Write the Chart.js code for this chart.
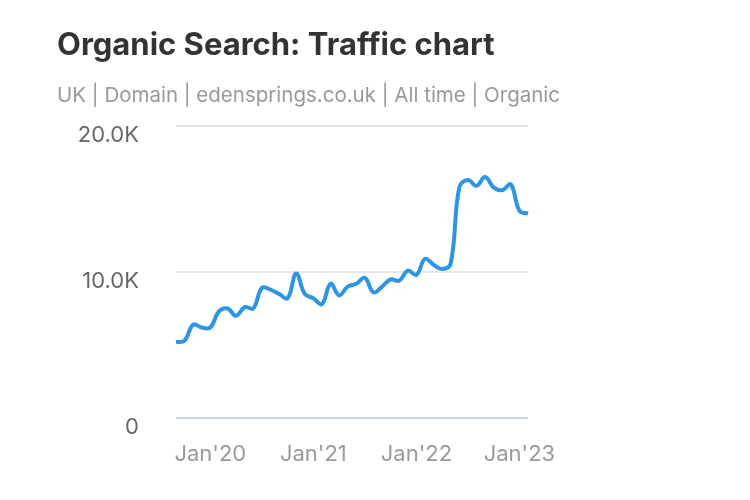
<!DOCTYPE html>
<html>
<head>
    <script src="https://cdn.jsdelivr.net/npm/chart.js@4"></script>
    <style>
        body { margin: 0; background: #fff; font-family: Inter, sans-serif; }
        #wrap { position: relative; width: 750px; height: 500px; }
        #title { position: absolute; left: 57px; top: 25px; font-size: 31px; font-weight: 700; color: #333; line-height: normal; white-space: nowrap; }
        #subtitle { position: absolute; left: 57px; top: 82px; font-size: 20.5px; color: #999; line-height: normal; white-space: nowrap; }
        canvas { position: absolute; left: 0; top: 0; }
    </style>
</head>
<body>
<div id="wrap">
    <canvas id="chart" width="750" height="500"></canvas>
    <div id="title">Organic Search: Traffic chart</div>
    <div id="subtitle">UK | Domain | edensprings.co.uk | All time | Organic</div>
</div>
<script>
    // monthly points, Sep 2019 .. Feb 2023
    const months = [
        "Sep'19", "Oct'19", "Nov'19", "Dec'19",
        "Jan'20", "Feb'20", "Mar'20", "Apr'20", "May'20", "Jun'20", "Jul'20", "Aug'20", "Sep'20", "Oct'20", "Nov'20", "Dec'20",
        "Jan'21", "Feb'21", "Mar'21", "Apr'21", "May'21", "Jun'21", "Jul'21", "Aug'21", "Sep'21", "Oct'21", "Nov'21", "Dec'21",
        "Jan'22", "Feb'22", "Mar'22", "Apr'22", "May'22", "Jun'22", "Jul'22", "Aug'22", "Sep'22", "Oct'22", "Nov'22", "Dec'22",
        "Jan'23", "Feb'23"
    ];
    const traffic = [
        5200, 5300, 6400, 6200,
        6200, 7300, 7500, 7000, 7600, 7500, 8900, 8800, 8500, 8200, 9900, 8500,
        8200, 7800, 9200, 8400, 9000, 9200, 9600, 8600, 9000, 9500, 9400, 10100,
        9800, 10900, 10500, 10200, 10600, 15800, 16300, 15900, 16500, 15800, 15600, 16000,
        14200, 14000
    ];
    const xTickLabels = ["Jan'20", "Jan'21", "Jan'22", "Jan'23"];
    const yTicks = [0, 10000, 20000];
    const yTickLabels = ['0', '10.0K', '20.0K'];

    const ctx = document.getElementById('chart');
    new Chart(ctx, {
        type: 'line',
        data: {
            labels: months,
            datasets: [{
                data: traffic,
                borderColor: '#2d95e2',
                borderWidth: 4,
                pointRadius: 0,
                tension: 0.4,
                fill: false
            }]
        },
        options: {
            responsive: false,
            animation: false,
            layout: { padding: { left: 57, right: 222, top: 126, bottom: 0 } },
            plugins: { legend: { display: false }, tooltip: { enabled: false } },
            scales: {
                x: {
                    afterFit: function (scale) { scale.height = 82; },
                    grid: { display: false },
                    border: { display: false },
                    ticks: {
                        autoSkip: false,
                        maxRotation: 0,
                        padding: 15,
                        color: '#999',
                        font: { family: 'Inter', size: 22 },
                        callback: function (v, i) {
                            const l = months[i];
                            return xTickLabels.includes(l) ? l : null;
                        }
                    }
                },
                y: {
                    min: 0,
                    max: 20000,
                    afterFit: function (scale) { scale.width = 119; },
                    afterBuildTicks: function (scale) {
                        scale.ticks = yTicks.map(v => ({ value: v }));
                    },
                    border: { display: false },
                    grid: {
                        drawTicks: false,
                        lineWidth: 2,
                        color: c => c.tick && c.tick.value === 0 ? '#c7d5ec' : '#e6e6e6'
                    },
                    ticks: {
                        padding: 37,
                        labelOffset: 9,
                        color: '#666',
                        font: { family: 'Inter', size: 22 },
                        callback: function (v) {
                            return yTickLabels[yTicks.indexOf(v)];
                        }
                    }
                }
            }
        }
    });
</script>
</body>
</html>
